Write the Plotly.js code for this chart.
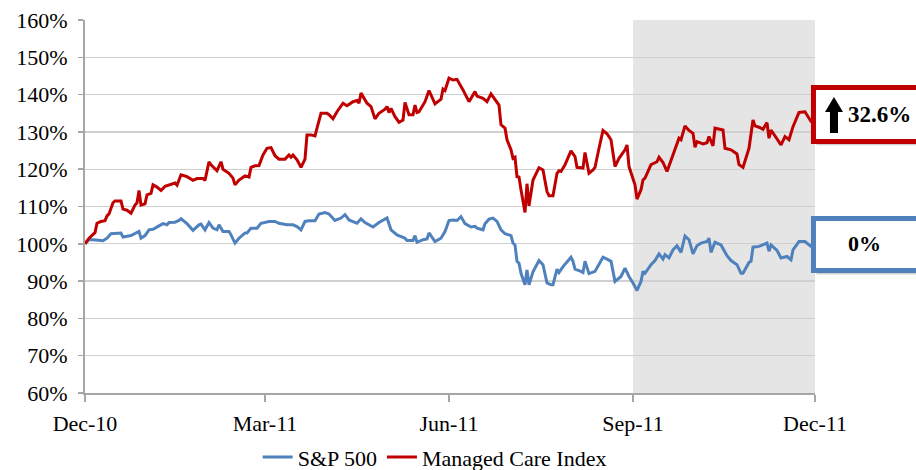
<!DOCTYPE html>
<html>
<head>
<meta charset="utf-8">
<script src="https://cdn.plot.ly/plotly-3.0.1.min.js"></script>
<style>
  html, body { margin: 0; padding: 0; background: #ffffff; }
  #chart { width: 916px; height: 470px; }
</style>
</head>
<body>
<div id="chart"></div>
<script>
// tick labels
var tickDates = ['2010-12-01', '2011-03-01', '2011-06-01', '2011-09-01', '2011-12-01'];
var tickLabels = ['Dec-10', 'Mar-11', 'Jun-11', 'Sep-11', 'Dec-11'];
var yTicks = [60, 70, 80, 90, 100, 110, 120, 130, 140, 150, 160];

// shaded period
var shadeStart = '2011-09-01';
var shadeEnd = '2011-12-01';

// callout texts
var managedCareChange = '32.6%';
var sp500Change = '0%';

// S&P 500, indexed to 100
var spDates = [
  '2010-12-01','2010-12-03','2010-12-05','2010-12-08','2010-12-10','2010-12-12','2010-12-14','2010-12-19','2010-12-20','2010-12-24','2010-12-27','2010-12-28','2010-12-29','2010-12-31',
  '2011-01-02','2011-01-04','2011-01-07','2011-01-09','2011-01-11','2011-01-12','2011-01-15','2011-01-17','2011-01-18','2011-01-21','2011-01-24','2011-01-27','2011-01-28','2011-01-30',
  '2011-02-01','2011-02-03','2011-02-05','2011-02-06','2011-02-08','2011-02-11','2011-02-12','2011-02-14','2011-02-16','2011-02-19','2011-02-20','2011-02-22','2011-02-25','2011-02-27',
  '2011-03-03','2011-03-06','2011-03-08','2011-03-12','2011-03-15','2011-03-17','2011-03-19','2011-03-21','2011-03-23','2011-03-26','2011-03-28','2011-03-31',
  '2011-04-02','2011-04-05','2011-04-08','2011-04-10','2011-04-12','2011-04-16','2011-04-18','2011-04-20','2011-04-24','2011-04-27',
  '2011-05-01','2011-05-03','2011-05-06','2011-05-10','2011-05-11','2011-05-14','2011-05-15','2011-05-16','2011-05-19','2011-05-21','2011-05-22','2011-05-25','2011-05-28','2011-05-30',
  '2011-06-01','2011-06-03','2011-06-05','2011-06-07','2011-06-09','2011-06-12','2011-06-14','2011-06-15','2011-06-18','2011-06-19','2011-06-21','2011-06-23','2011-06-25','2011-06-27','2011-06-29',
  '2011-07-02','2011-07-03','2011-07-04','2011-07-05','2011-07-06','2011-07-07','2011-07-09','2011-07-10','2011-07-11','2011-07-13','2011-07-16','2011-07-18','2011-07-20','2011-07-22','2011-07-23','2011-07-25','2011-07-26','2011-07-28',
  '2011-08-01','2011-08-02','2011-08-03','2011-08-06','2011-08-07','2011-08-08','2011-08-10','2011-08-13','2011-08-17','2011-08-19','2011-08-21','2011-08-23','2011-08-26','2011-08-28','2011-08-30',
  '2011-09-01','2011-09-03','2011-09-05','2011-09-06','2011-09-07','2011-09-10','2011-09-12','2011-09-14','2011-09-16','2011-09-17','2011-09-19','2011-09-21','2011-09-23','2011-09-25','2011-09-27','2011-09-29',
  '2011-10-01','2011-10-03','2011-10-05','2011-10-08','2011-10-09','2011-10-10','2011-10-12','2011-10-15','2011-10-18','2011-10-20','2011-10-23','2011-10-25','2011-10-26','2011-10-29','2011-10-30','2011-10-31',
  '2011-11-03','2011-11-07','2011-11-08','2011-11-09','2011-11-12','2011-11-14','2011-11-17','2011-11-19','2011-11-20','2011-11-23','2011-11-26','2011-11-29','2011-11-30',
  '2011-12-01'
];
var spValues = [
  100, 101.1, 101.1, 100.8, 100.8, 101.5, 102.7, 102.9, 101.8, 102.2, 102.9, 103.3, 101.5, 102.2,
  103.75, 103.9, 104.8, 105.4, 105.1, 105.7, 105.8, 106.25, 106.7, 105.4, 103.6, 105.1, 105.3, 103.75,
  105.7, 104.2, 103.75, 105.1, 103.3, 103.3, 102.4, 100.2, 101.5, 102.9, 102.9, 104.2, 104.2, 105.5,
  106, 106, 105.5, 105.1, 105.1, 104.6, 103.75, 106, 106.2, 106.2, 108, 108.4,
  108, 106.25, 106.9, 107.8, 106.4, 105.5, 106.7, 105.7, 104.5, 105.7,
  106.9, 103.75, 102.4, 101.5, 100.9, 100.9, 102.2, 100.4, 101.1, 101.3, 102.9, 100.6, 101.5, 103.3,
  106.25, 106.4, 106.25, 107.3, 105.4, 104.5, 104.7, 104.2, 103.75, 105.4, 106.6, 106.9, 106, 103.75, 102.7,
  102.2, 100.2, 99.7, 95.3, 94.8, 92.1, 89, 93, 89, 92.5, 95.5, 94.4, 89.5, 89, 89, 93.2, 92.3, 93.9,
  96.4, 95.3, 93.2, 92.6, 92.3, 95.3, 92, 92.6, 96.4, 95.9, 95.3, 89.9, 91.25, 93.5, 91.25,
  89.5, 87.5, 89.9, 92.6, 92.1, 94.4, 95.5, 97.3, 95.9, 97.1, 96.2, 98.4, 99.5, 97.7, 102.1, 101.1,
  97.3, 99.5, 100.2, 100.6, 101.5, 97.7, 100.4, 99.7, 96.8, 95.5, 94.4, 92.1, 92.1, 95, 95.3, 99.1,
  99.3, 100.2, 98, 99.7, 98.2, 96.2, 96.6, 95.7, 98.4, 100.6, 100.6, 99.3, 100,
  100
];

// Managed Care Index, indexed to 100
var mcDates = [
  '2010-12-01','2010-12-03','2010-12-06','2010-12-07','2010-12-09','2010-12-11','2010-12-12','2010-12-13','2010-12-15','2010-12-16','2010-12-19','2010-12-20','2010-12-22','2010-12-24','2010-12-26','2010-12-27','2010-12-28','2010-12-29','2010-12-31',
  '2011-01-01','2011-01-03','2011-01-04','2011-01-06','2011-01-08','2011-01-10','2011-01-13','2011-01-15','2011-01-16','2011-01-18','2011-01-21','2011-01-24','2011-01-26','2011-01-29','2011-01-30',
  '2011-02-01','2011-02-02','2011-02-05','2011-02-07','2011-02-08','2011-02-11','2011-02-13','2011-02-14','2011-02-16','2011-02-19','2011-02-21','2011-02-22','2011-02-24','2011-02-26','2011-02-28',
  '2011-03-02','2011-03-04','2011-03-06','2011-03-08','2011-03-11','2011-03-13','2011-03-14','2011-03-15','2011-03-17','2011-03-19','2011-03-21','2011-03-22','2011-03-24','2011-03-26','2011-03-27','2011-03-29',
  '2011-04-01','2011-04-02','2011-04-04','2011-04-06','2011-04-09','2011-04-11','2011-04-14','2011-04-16','2011-04-17','2011-04-18','2011-04-21','2011-04-23','2011-04-25','2011-04-27','2011-04-30',
  '2011-05-01','2011-05-02','2011-05-03','2011-05-05','2011-05-07','2011-05-09','2011-05-10','2011-05-12','2011-05-14','2011-05-15','2011-05-16','2011-05-17','2011-05-20','2011-05-22','2011-05-24','2011-05-25','2011-05-28','2011-05-29','2011-05-30',
  '2011-06-01','2011-06-03','2011-06-05','2011-06-08','2011-06-11','2011-06-14','2011-06-15','2011-06-18','2011-06-20','2011-06-22','2011-06-24','2011-06-26','2011-06-27','2011-06-29','2011-06-30',
  '2011-07-02','2011-07-03','2011-07-04','2011-07-05','2011-07-06','2011-07-07','2011-07-09','2011-07-10','2011-07-11','2011-07-13','2011-07-16','2011-07-18','2011-07-20','2011-07-21','2011-07-23','2011-07-25','2011-07-26','2011-07-27','2011-07-29',
  '2011-08-01','2011-08-03','2011-08-04','2011-08-06','2011-08-07','2011-08-08','2011-08-10','2011-08-12','2011-08-13','2011-08-15','2011-08-17','2011-08-19','2011-08-21','2011-08-23','2011-08-25','2011-08-28','2011-08-29','2011-08-30','2011-08-31',
  '2011-09-02','2011-09-03','2011-09-05','2011-09-06','2011-09-07','2011-09-10','2011-09-12','2011-09-13','2011-09-14','2011-09-16','2011-09-18','2011-09-20','2011-09-22','2011-09-24','2011-09-25','2011-09-27','2011-09-29',
  '2011-10-01','2011-10-02','2011-10-03','2011-10-06','2011-10-08','2011-10-09','2011-10-11','2011-10-12','2011-10-16','2011-10-17','2011-10-20','2011-10-23','2011-10-24','2011-10-26','2011-10-29','2011-10-31',
  '2011-11-01','2011-11-03','2011-11-05','2011-11-07','2011-11-08','2011-11-09','2011-11-11','2011-11-14','2011-11-16','2011-11-18','2011-11-20','2011-11-23','2011-11-26','2011-11-29','2011-11-30',
  '2011-12-01'
];
var mcValues = [
  100, 101.5, 103, 105.5, 106, 106.2, 107.5, 108, 111, 111.5, 111.5, 109.3, 109, 108.2, 110.4, 111, 114.3, 110.4, 110.7,
  113.1, 113.5, 115.8, 115.2, 114.3, 115.4, 116, 116.3, 115.7, 118.5, 118, 117, 117.5, 117.5, 117,
  122, 121.2, 119.6, 122, 120, 118.9, 117.6, 115.8, 117.1, 118.2, 117.9, 120.5, 120.9, 121, 123.8,
  125.6, 125.8, 123.6, 122.7, 122.7, 123.8, 123.2, 123.8, 122.5, 120.5, 122.7, 129.2, 129.2, 128.9, 131, 135,
  135, 134.6, 133.5, 135.4, 137.7, 137, 138.1, 138.4, 137.7, 140.4, 137.7, 136.8, 133.5, 135, 136.1,
  136.8, 135.2, 136.3, 134.1, 132.6, 133.2, 137.9, 134.6, 134.6, 137.2, 135.2, 135.4, 138.1, 141.1, 138.75, 137.5, 138.75, 141.5, 141.1,
  144.4, 143.9, 144.1, 141.25, 138.1, 140.8, 139.6, 139, 138.1, 140.2, 138.6, 137.2, 131.9, 131, 127.9,
  125.2, 122.9, 123.2, 118, 117.9, 114.5, 108.4, 116.1, 110.2, 117.1, 120.4, 119.8, 114, 112.9, 112.9, 118.9, 119.6, 119.4, 121.2,
  124.9, 123.4, 120.5, 120.4, 120.3, 124.5, 118.9, 119.8, 120.5, 125.6, 130.4, 129.5, 127.9, 120.7, 122.9, 125.2, 126.5, 120.7, 118.9,
  115.8, 112, 114.5, 117.1, 117.6, 121.2, 121.6, 122, 123.2, 121.8, 119.4, 122.5, 125.4, 128.3, 127.9, 131.6, 130.4,
  129.6, 125.9, 127.4, 126.8, 127.1, 128.75, 126.25, 131, 130.5, 125.6, 125.2, 124.1, 121.2, 120.5, 125.6, 133.2,
  131.6, 131.25, 130.7, 132.5, 128.3, 130.5, 128.9, 126.5, 128.75, 127.9, 131.4, 135.2, 135.4, 132.8, 132.5,
  132.6
];

var blue = '#4f81bd';
var red = '#c00000';
var serif = '"Liberation Serif", "DejaVu Serif", serif';

var data = [
  {
    // S&P 500 line
    x: spDates,
    y: spValues,
    type: 'scatter',
    mode: 'lines',
    name: 'S&P 500',
    line: { color: blue, width: 3 }
  }, {
    // managed care line
    x: mcDates,
    y: mcValues,
    type: 'scatter',
    mode: 'lines',
    name: 'Managed Care Index',
    line: { color: red, width: 3 }
  }
];

// shaded quarter + callout boxes on the right (paper units)
var shapes = [
  {
    type: 'rect', xref: 'x', yref: 'paper',
    x0: shadeStart, x1: shadeEnd, y0: 0, y1: 1,
    fillcolor: '#e5e5e5', line: { width: 0 }, layer: 'below'
  },
  // shadows
  { type: 'rect', xref: 'paper', yref: 'paper', x0: 1.002, x1: 1.3, y0: 0.664, y1: 0.811,
    fillcolor: 'rgba(0,0,0,0.18)', line: { width: 0 }, layer: 'above' },
  { type: 'rect', xref: 'paper', yref: 'paper', x0: 1.002, x1: 1.3, y0: 0.318, y1: 0.460,
    fillcolor: 'rgba(0,0,0,0.18)', line: { width: 0 }, layer: 'above' },
  // boxes
  { type: 'rect', xref: 'paper', yref: 'paper', x0: 0.9979, x1: 1.3, y0: 0.6743, y1: 0.8190,
    fillcolor: '#ffffff', line: { color: red, width: 5 }, layer: 'above' },
  { type: 'rect', xref: 'paper', yref: 'paper', x0: 0.9979, x1: 1.3, y0: 0.3284, y1: 0.4678,
    fillcolor: '#ffffff', line: { color: blue, width: 5 }, layer: 'above' },
  // up arrow
  { type: 'path', xref: 'paper', yref: 'paper',
    path: 'M 1.0137,0.7534 L 1.0260,0.7936 L 1.0384,0.7534 L 1.0315,0.7534 L 1.0315,0.6971 L 1.0205,0.6971 L 1.0205,0.7534 Z',
    fillcolor: '#000000', line: { width: 0 }, layer: 'above' }
];

var annotations = [
  { xref: 'paper', yref: 'paper', x: 1.089, y: 0.747, text: '<b>' + managedCareChange + '</b>',
    showarrow: false, xanchor: 'center', yanchor: 'middle',
    font: { family: serif, size: 23, color: '#000000' } },
  { xref: 'paper', yref: 'paper', x: 1.068, y: 0.400, text: '<b>' + sp500Change + '</b>',
    showarrow: false, xanchor: 'center', yanchor: 'middle',
    font: { family: serif, size: 22, color: '#000000' } }
];

var layout = {
  width: 916,
  height: 470,
  margin: { l: 85, r: 101, t: 20, b: 77, autoexpand: false },
  paper_bgcolor: '#ffffff',
  plot_bgcolor: '#ffffff',
  font: { family: serif, size: 22, color: '#000000' },
  showlegend: true,
  legend: {
    orientation: 'h',
    x: 0.479, xanchor: 'center',
    y: -0.172, yanchor: 'middle',
    font: { family: serif, size: 22 },
    bgcolor: 'rgba(0,0,0,0)'
  },
  xaxis: {
    type: 'date',
    range: [tickDates[0], tickDates[tickDates.length - 1]],
    tickmode: 'array',
    tickvals: tickDates,
    ticktext: tickLabels,
    ticks: 'outside',
    ticklen: 7,
    tickwidth: 1.5,
    tickcolor: '#a6a6a6',
    showline: true,
    linecolor: '#a6a6a6',
    linewidth: 2,
    showgrid: false,
    zeroline: false,
    automargin: false,
    ticklabelstandoff: 3
  },
  yaxis: {
    range: [60, 160],
    tickmode: 'array',
    tickvals: yTicks,
    ticktext: yTicks.map(function (v) { return v + '%'; }),
    ticks: 'outside',
    ticklen: 5,
    tickwidth: 1.5,
    tickcolor: '#a6a6a6',
    showline: true,
    linecolor: '#a6a6a6',
    linewidth: 2,
    showgrid: true,
    gridcolor: '#d0d0d0',
    gridwidth: 1.3,
    zeroline: false,
    automargin: false,
    ticklabelstandoff: 6
  },
  shapes: shapes,
  annotations: annotations
};

Plotly.newPlot('chart', data, layout, { displayModeBar: false, staticPlot: true });
</script>
</body>
</html>
